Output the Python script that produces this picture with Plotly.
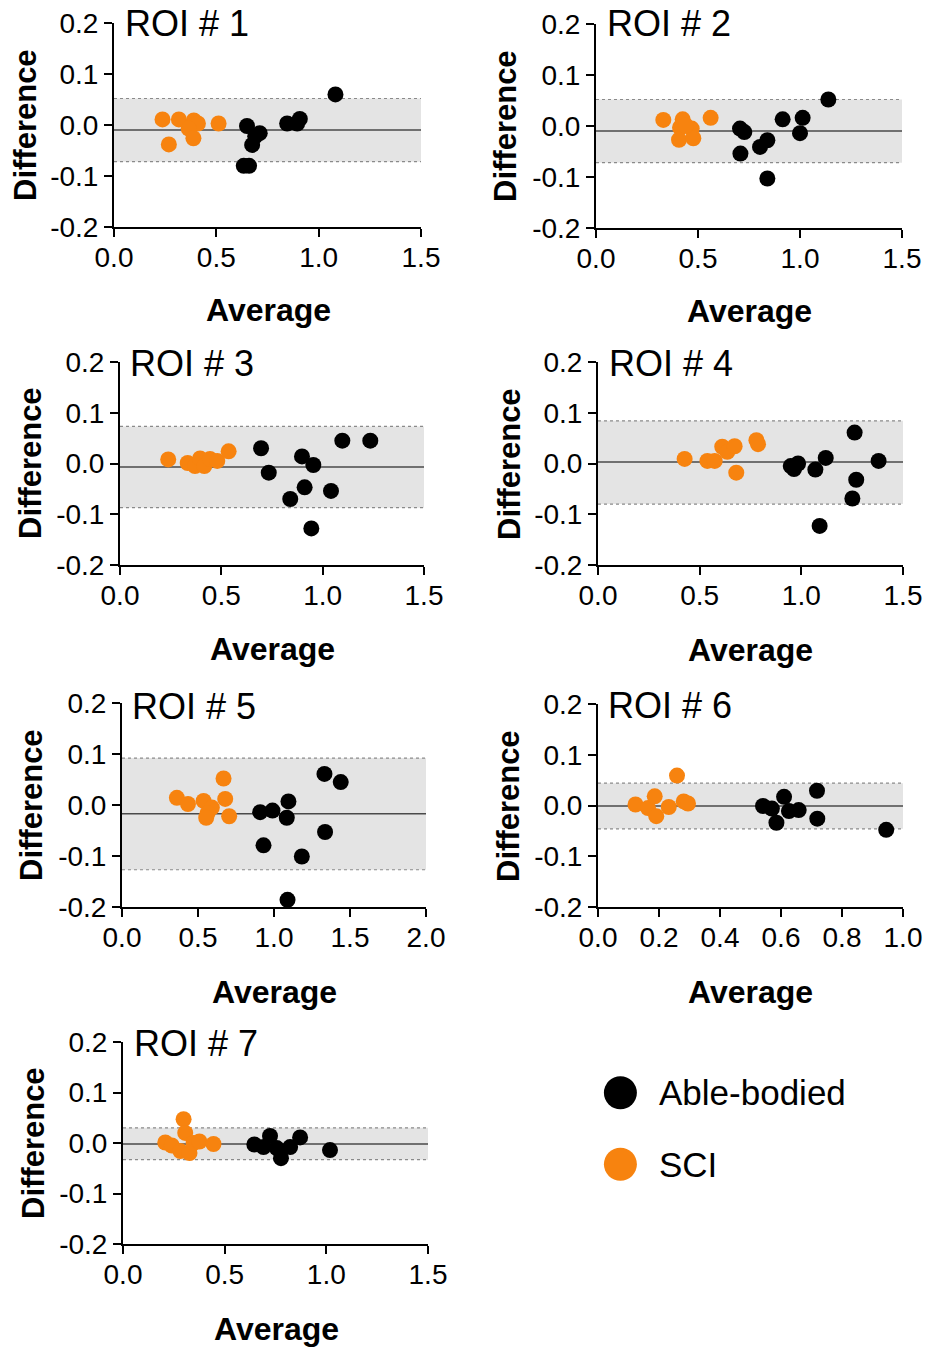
import plotly.graph_objects as go

# ---------------- data ----------------
roi_titles = ["ROI # 1", "ROI # 2", "ROI # 3", "ROI # 4", "ROI # 5", "ROI # 6", "ROI # 7"]

sci_avg_1 = [0.237, 0.317, 0.390, 0.410, 0.365, 0.388, 0.268, 0.511]
sci_dif_1 = [0.011, 0.011, 0.009, 0.003, -0.007, -0.026, -0.038, 0.003]
ab_avg_1 = [0.650, 0.712, 0.690, 0.675, 0.634, 0.660, 0.846, 0.908, 0.895, 1.082]
ab_dif_1 = [-0.002, -0.016, -0.022, -0.039, -0.080, -0.080, 0.003, 0.012, 0.003, 0.060]

sci_avg_2 = [0.330, 0.425, 0.412, 0.469, 0.407, 0.477, 0.562, 0.440]
sci_dif_2 = [0.012, 0.013, -0.003, -0.005, -0.027, -0.024, 0.016, 0.001]
ab_avg_2 = [0.706, 0.727, 0.708, 0.804, 0.840, 0.840, 0.915, 1.013, 1.000, 1.139]
ab_dif_2 = [-0.005, -0.012, -0.054, -0.041, -0.028, -0.103, 0.013, 0.016, -0.014, 0.052]

sci_avg_3 = [0.238, 0.334, 0.370, 0.395, 0.416, 0.444, 0.480, 0.536]
sci_dif_3 = [0.008, 0.001, -0.005, 0.010, -0.005, 0.009, 0.005, 0.024]
ab_avg_3 = [0.696, 0.734, 0.898, 0.954, 0.911, 0.840, 1.041, 0.944, 1.097, 1.235]
ab_dif_3 = [0.030, -0.018, 0.014, -0.003, -0.047, -0.070, -0.054, -0.128, 0.045, 0.045]

sci_avg_4 = [0.426, 0.538, 0.574, 0.611, 0.636, 0.672, 0.680, 0.779, 0.787]
sci_dif_4 = [0.009, 0.005, 0.005, 0.033, 0.023, 0.034, -0.018, 0.046, 0.038]
ab_avg_4 = [0.948, 0.964, 0.984, 1.069, 1.120, 1.090, 1.262, 1.270, 1.251, 1.380]
ab_dif_4 = [-0.005, -0.011, 0.000, -0.012, 0.011, -0.123, 0.061, -0.032, -0.069, 0.005]

sci_avg_5 = [0.361, 0.434, 0.537, 0.591, 0.563, 0.554, 0.668, 0.679, 0.705]
sci_dif_5 = [0.014, 0.002, 0.008, -0.005, -0.016, -0.025, 0.052, 0.012, -0.022]
ab_avg_5 = [0.909, 0.990, 1.095, 1.084, 0.931, 1.183, 1.089, 1.332, 1.439, 1.336]
ab_dif_5 = [-0.014, -0.011, 0.007, -0.025, -0.079, -0.101, -0.186, 0.061, 0.045, -0.053]

sci_avg_6 = [0.123, 0.164, 0.186, 0.191, 0.232, 0.259, 0.281, 0.295]
sci_dif_6 = [0.002, -0.005, 0.018, -0.021, -0.003, 0.059, 0.008, 0.004]
ab_avg_6 = [0.541, 0.570, 0.585, 0.610, 0.626, 0.658, 0.718, 0.719, 0.945]
ab_dif_6 = [-0.001, -0.006, -0.034, 0.017, -0.011, -0.009, 0.029, -0.026, -0.048]

sci_avg_7 = [0.208, 0.240, 0.282, 0.298, 0.306, 0.327, 0.347, 0.376, 0.445]
sci_dif_7 = [0.001, -0.005, -0.016, 0.047, 0.020, -0.020, 0.000, 0.003, -0.002]
ab_avg_7 = [0.646, 0.691, 0.723, 0.756, 0.777, 0.822, 0.871, 1.018]
ab_dif_7 = [-0.003, -0.008, 0.014, -0.010, -0.030, -0.008, 0.011, -0.014]

bias = [-0.010, -0.010, -0.007, 0.003, -0.017, -0.001, -0.002]
loa_upper = [0.052, 0.052, 0.073, 0.084, 0.092, 0.044, 0.030]
loa_lower = [-0.072, -0.072, -0.087, -0.080, -0.127, -0.046, -0.033]

x_max = [1.5, 1.5, 1.5, 1.5, 2.0, 1.0, 1.5]
x_dtick = [0.5, 0.5, 0.5, 0.5, 0.5, 0.2, 0.5]
y_ticks = [-0.2, -0.1, 0.0, 0.1, 0.2]
y_ticktext = ["-0.2", "-0.1", "0.0", "0.1", "0.2"]

legend_names = ["Able-bodied", "SCI"]

sci_avg = [sci_avg_1, sci_avg_2, sci_avg_3, sci_avg_4, sci_avg_5, sci_avg_6, sci_avg_7]
sci_dif = [sci_dif_1, sci_dif_2, sci_dif_3, sci_dif_4, sci_dif_5, sci_dif_6, sci_dif_7]
ab_avg = [ab_avg_1, ab_avg_2, ab_avg_3, ab_avg_4, ab_avg_5, ab_avg_6, ab_avg_7]
ab_dif = [ab_dif_1, ab_dif_2, ab_dif_3, ab_dif_4, ab_dif_5, ab_dif_6, ab_dif_7]

# ---------------- layout (pixels) ----------------
W, H = 928, 1349
FONT = "Liberation Sans, Arial, Helvetica, sans-serif"
ORANGE = "#F7830F"
BLACK = "#000000"

# plot areas: (left, right, top, bottom)
areas = [
    (114, 421, 23, 227),
    (596, 902, 24, 228),
    (120, 424, 362, 565),
    (598, 903, 362, 565),
    (122, 426, 703, 907),
    (598, 903, 704, 907),
    (123, 428, 1042, 1244),
]
diff_title_pos = [(25, 125), (506, 126), (30, 463), (509, 464), (31, 805), (508, 806), (33, 1143)]
avg_title_pos = [(268, 310), (749, 311), (272, 649), (750, 650), (274, 992), (750, 992), (276, 1329)]
roi_title_pos = [(123, 24), (605, 24), (128, 364), (607, 364), (130, 706), (606, 705), (132, 1043)]

fig = go.Figure()
annotations = []
shapes = []


def px_x(p):
    return p / W


def px_y(p):
    return 1 - p / H


for i in range(7):
    n = i + 1
    xa = "x" if n == 1 else f"x{n}"
    ya = "y" if n == 1 else f"y{n}"
    l, r, t, b = areas[i]
    axis_common = dict(
        showline=True, linecolor="black", linewidth=2,
        ticks="outside", ticklen=8, tickwidth=2, tickcolor="black",
        tickfont=dict(family=FONT, size=28, color="black"),
        showgrid=False, zeroline=False, fixedrange=True, automargin=False,
    )
    fig.layout[f"xaxis{'' if n == 1 else n}"] = dict(
        domain=[px_x(l), px_x(r)], anchor=ya, range=[0, x_max[i]],
        tick0=0, dtick=x_dtick[i], tickformat=".1f", ticklabelstandoff=-4, **axis_common,
    )
    fig.layout[f"yaxis{'' if n == 1 else n}"] = dict(
        domain=[px_y(b), px_y(t)], anchor=xa, range=[-0.2, 0.2],
        tickvals=y_ticks, ticktext=y_ticktext, **axis_common,
    )
    xd = f"{xa} domain"
    # band between limits of agreement
    shapes.append(dict(type="rect", xref=xd, yref=ya, x0=0, x1=1,
                       y0=loa_lower[i], y1=loa_upper[i],
                       fillcolor="#E4E4E4", line=dict(width=0), layer="below"))
    for yv in (loa_lower[i], loa_upper[i]):
        shapes.append(dict(type="line", xref=xd, yref=ya, x0=0, x1=1, y0=yv, y1=yv,
                           line=dict(color="#8A8A8A", width=1.2, dash="dot"), layer="below"))
    shapes.append(dict(type="line", xref=xd, yref=ya, x0=0, x1=1, y0=bias[i], y1=bias[i],
                       line=dict(color="#4A4A4A", width=1.5), layer="below"))

    fig.add_trace(go.Scatter(x=sci_avg[i], y=sci_dif[i], mode="markers", xaxis=xa, yaxis=ya,
                             marker=dict(color=ORANGE, size=16, line=dict(width=0)),
                             showlegend=False, hoverinfo="skip"))
    fig.add_trace(go.Scatter(x=ab_avg[i], y=ab_dif[i], mode="markers", xaxis=xa, yaxis=ya,
                             marker=dict(color=BLACK, size=16, line=dict(width=0)),
                             showlegend=False, hoverinfo="skip"))

    dx, dy = diff_title_pos[i]
    annotations.append(dict(text="<b>Difference</b>", x=px_x(dx), y=px_y(dy), xref="paper", yref="paper",
                            textangle=-90, showarrow=False, xanchor="center", yanchor="middle",
                            font=dict(family=FONT, size=31, color="black")))
    ax, ay = avg_title_pos[i]
    annotations.append(dict(text="<b>Average</b>", x=px_x(ax), y=px_y(ay), xref="paper", yref="paper",
                            showarrow=False, xanchor="center", yanchor="middle",
                            font=dict(family=FONT, size=32, color="black")))
    rx, ry = roi_title_pos[i]
    annotations.append(dict(text=roi_titles[i], x=px_x(rx), y=px_y(ry), xref="paper", yref="paper",
                            showarrow=False, xanchor="left", yanchor="middle",
                            font=dict(family=FONT, size=36, color="black")))

# legend drawn in a hidden axis
leg_l, leg_r, leg_t, leg_b = 600, 900, 1057, 1200
fig.layout["xaxis8"] = dict(domain=[px_x(leg_l), px_x(leg_r)], anchor="y8", range=[0, 1],
                            visible=False, fixedrange=True, automargin=False)
fig.layout["yaxis8"] = dict(domain=[px_y(leg_b), px_y(leg_t)], anchor="x8", range=[1.5, -0.5],
                            visible=False, fixedrange=True, automargin=False)
leg_colors = [BLACK, ORANGE]
fig.add_trace(go.Scatter(x=[0.068] * len(legend_names), y=list(range(len(legend_names))),
                         mode="markers", xaxis="x8", yaxis="y8",
                         marker=dict(color=leg_colors, size=33, line=dict(width=0)),
                         showlegend=False, hoverinfo="skip"))
for k, name in enumerate(legend_names):
    annotations.append(dict(text=name, x=0.19, y=k, xref="x8", yref="y8", showarrow=False,
                            xanchor="left", yanchor="middle",
                            font=dict(family=FONT, size=35, color="black")))

fig.update_layout(
    width=W, height=H, margin=dict(l=0, r=0, t=0, b=0, autoexpand=False),
    paper_bgcolor="white", plot_bgcolor="white",
    showlegend=False, annotations=annotations, shapes=shapes,
    font=dict(family=FONT, color="black"),
)

fig.write_html("out.html")
